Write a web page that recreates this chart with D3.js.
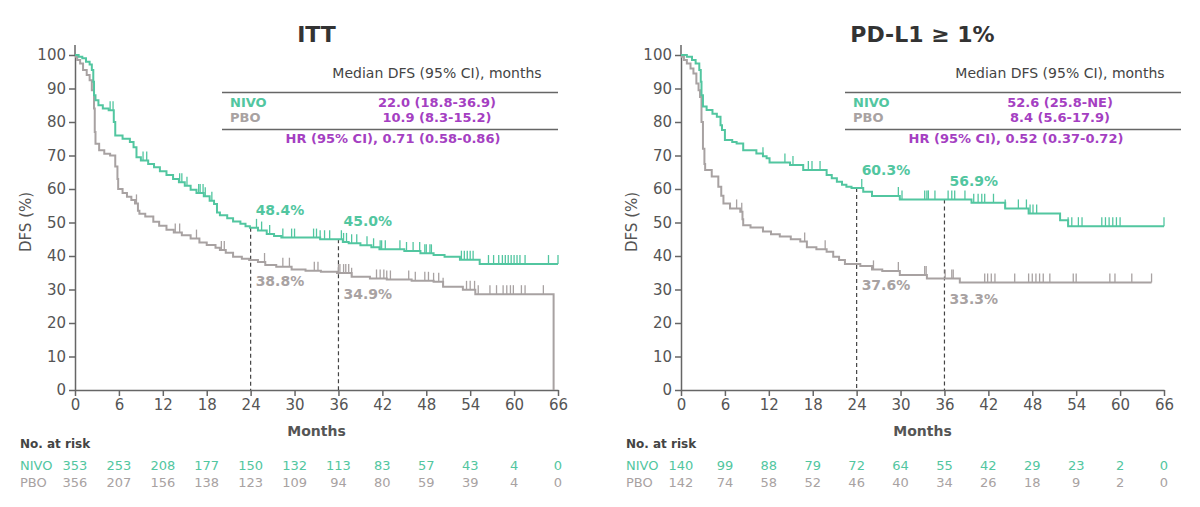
<!DOCTYPE html>
<html>
<head>
<meta charset="utf-8">
<script src="https://cdn.jsdelivr.net/npm/d3@7"></script>
<style>
body { margin: 0; background: #fff; }
text { font-family: "DejaVu Sans", sans-serif; }
</style>
</head>
<body>
<script>
// valores
var monthTicks = [0, 6, 12, 18, 24, 30, 36, 42, 48, 54, 60, 66];
var dfsTicks = [0, 10, 20, 30, 40, 50, 60, 70, 80, 90, 100];

// ITT: escalones [mes, DFS %]
var ittNivo = [[0,100],[0.5,99.5],[1.0,99],[1.5,98],[2.0,97.2],[2.3,95.5],[2.5,92],[2.6,88],[2.8,86.5],[3.2,85],[3.8,84],[4.6,83.5],[5.3,80],[5.5,76],[6.5,75],[7.5,74],[8.0,72.5],[8.4,69.5],[9.0,68.5],[10.0,67.5],[10.8,66.5],[11.6,65.3],[12.5,64.2],[13.4,63],[14.2,62],[15.0,61],[15.8,59.8],[16.6,58.8],[17.6,57.8],[18.4,56.5],[19.0,55.5],[19.4,53],[19.8,52.2],[20.8,51.3],[21.6,50.3],[22.6,49.6],[23.3,48.9],[23.9,48.4],[25.0,47.6],[26.2,46.6],[27.2,46.0],[28.2,45.5],[33.5,45.0],[36.6,44.2],[37.4,43.8],[39.0,43.2],[40.5,42.6],[41.6,42.0],[45.0,41.5],[47.2,40.8],[49.0,40.3],[50.5,39.8],[52.6,38.9],[55.3,37.6],[66,37.6]];
var ittPbo = [[0,99.5],[0.3,98.5],[0.7,97.5],[1.1,95.5],[1.6,94],[2.0,92.5],[2.3,89.5],[2.6,84],[2.7,77],[2.8,73.5],[3.3,71.6],[4.0,70.5],[4.8,70],[5.5,66.7],[5.8,63],[5.9,60],[6.5,58.8],[7.1,57.7],[7.7,56.7],[8.2,55.7],[8.6,53.5],[8.8,52.6],[9.6,51.8],[10.7,50.2],[11.5,49],[12.5,47.8],[13.5,47],[14.6,46.2],[15.8,45.2],[17.0,44],[18.0,43.3],[19.2,42.5],[19.8,41.8],[20.6,41],[21.6,39.8],[22.8,39.2],[23.8,38.8],[25.0,38.2],[26.0,37.3],[27.5,36.8],[29.6,36.0],[31.5,35.6],[33.6,35.3],[35.8,34.9],[37.8,33.8],[40.3,33.3],[42.6,33.0],[46,32.6],[49,32.3],[50.3,30.8],[53,29.9],[54.7,28.6],[65.4,0]];
var ittNivoCens = [4.8,5.2,9.3,9.8,14.3,14.6,15.3,16.9,17.1,17.5,17.8,18.7,24.8,25.5,26.6,28.4,29.6,30.0,32.6,33.0,33.5,34.1,34.8,36.4,36.7,37.1,37.8,38.5,39.9,40.8,41.7,41.9,42.4,44.4,45.3,46.2,47.1,47.8,48.0,48.5,48.7,52.8,53.2,53.6,54.0,54.4,56.5,57.2,57.9,58.4,58.8,59.2,59.6,60.0,60.4,60.8,61.5,64.7,66.0];
var ittPboCens = [8.4,13.7,14.3,16.6,20.0,20.4,25.9,28.4,29.3,32.7,33.2,36.0,36.2,36.7,37.0,37.4,37.8,41.2,41.7,42.2,42.6,43.1,45.6,46.5,47.8,48.3,49.0,49.7,50.3,53.5,54.0,54.6,55.1,56.7,57.6,58.5,59.0,59.5,59.9,61.0,61.5,64.0];

// PD-L1 >= 1%
var pdNivo = [[0,100],[0.8,99.5],[1.5,98.5],[2.0,97.5],[2.5,95.5],[2.7,92],[2.8,88],[3.0,84.6],[3.5,83.6],[4.3,82.5],[4.9,81.6],[5.4,79],[5.6,77.6],[6.0,74.6],[7.0,74],[7.6,73.6],[8.5,71.6],[10.3,70.6],[11.2,69.8],[11.7,69.2],[12.1,67.9],[14.9,67.2],[16.7,65.7],[19.9,64.2],[20.6,63.2],[21.3,62.2],[22.0,61.3],[22.6,60.7],[23.3,60.3],[24.9,59.2],[26.1,57.9],[29.9,56.9],[39.7,55.9],[44.3,54.2],[47.5,52.7],[51.8,50.7],[52.9,48.9],[66,48.9]];
var pdPbo = [[0,99.5],[0.4,98.5],[0.8,97.5],[1.3,96],[1.7,94.5],[2.1,91.5],[2.4,89.5],[2.6,87.5],[2.8,80],[3.0,72],[3.2,67.5],[3.3,65.7],[4.2,63.7],[5.1,60.7],[5.5,58],[5.8,55.7],[6.7,54.2],[8.1,53.2],[8.4,51],[8.5,49.2],[9.5,48.5],[11.2,47.3],[12.3,46.5],[13.5,45.8],[15.0,45.0],[16.3,44.3],[17.2,42.6],[18.5,42],[19.9,41.3],[20.8,39.8],[21.6,38.8],[22.4,37.6],[24.5,37.0],[26.1,36.0],[27.5,35.5],[29.9,34.3],[33.6,33.3],[38.1,32.1],[64.3,32.1]];
var pdNivoCens = [11.2,14.2,15.3,17.4,17.9,19.0,24.7,29.7,30.2,33.3,33.6,33.8,34.7,36.5,37.0,37.4,38.8,40.0,40.6,41.1,41.5,42.7,44.3,46.1,47.2,47.7,48.1,48.6,52.9,53.4,54.3,54.8,57.5,58.0,58.5,59.0,59.5,60.0,66.0];
var pdPboCens = [7.6,8.3,16.9,19.7,26.3,29.7,33.3,33.5,36.1,37.0,37.2,41.5,41.9,42.4,42.9,45.6,47.5,48.0,48.5,49.0,49.5,50.4,53.6,54.0,58.6,59.3,61.6,64.3];

// número en riesgo
var ittRiskNivo = [353,253,208,177,150,132,113,83,57,43,4,0];
var ittRiskPbo = [356,207,156,138,123,109,94,80,59,39,4,0];
var pdRiskNivo = [140,99,88,79,72,64,55,42,29,23,2,0];
var pdRiskPbo = [142,74,58,52,46,40,34,26,18,9,2,0];

// tablas de mediana y marcas de 24 / 36 meses
var ittMedian = ["22.0 (18.8-36.9)", "10.9 (8.3-15.2)", "HR (95% CI), 0.71 (0.58-0.86)"];
var pdMedian = ["52.6 (25.8-NE)", "8.4 (5.6-17.9)", "HR (95% CI), 0.52 (0.37-0.72)"];
var ittMarks = [[24, 48.4, 38.8], [36, 45.0, 34.9]];
var pdMarks = [[24, 60.3, 37.6], [36, 56.9, 33.3]];

var NIVO = "#52c6a0", PBO = "#a8a2a2", PURPLE = "#a53fc2", AXIS = "#666", TXT = "#555";

var panels = [
  {title: "ITT", x0: 75, tableX: 222, nivo: ittNivo, pbo: ittPbo, nivoCens: ittNivoCens, pboCens: ittPboCens,
   riskNivo: ittRiskNivo, riskPbo: ittRiskPbo, median: ittMedian, marks: ittMarks},
  {title: "PD-L1 \u2265 1%", x0: 681, tableX: 845, nivo: pdNivo, pbo: pdPbo, nivoCens: pdNivoCens, pboCens: pdPboCens,
   riskNivo: pdRiskNivo, riskPbo: pdRiskPbo, median: pdMedian, marks: pdMarks}
];

var svg = d3.select("body").append("svg")
  .attr("width", 1200).attr("height", 507);

// valor de la curva en un mes dado
function survAt(steps, t) {
  var v = steps[0][1];
  steps.forEach(function(s) { if (s[0] <= t) v = s[1]; });
  return v;
}

panels.forEach(function(p) {
  var g = svg.append("g");
  var x = d3.scaleLinear().domain([0, 66]).range([p.x0, p.x0 + 483]);
  var y = d3.scaleLinear().domain([0, 100]).range([390, 55]);
  var left = p.x0 - 55;

  // título
  g.append("text").attr("x", x(33)).attr("y", 42).attr("text-anchor", "middle")
    .attr("font-size", 22).attr("font-weight", "bold").attr("fill", "#333").text(p.title);

  // ejes
  var yAxis = g.append("g").attr("transform", "translate(" + p.x0 + ",0)")
    .call(d3.axisLeft(y).tickValues(dfsTicks).tickSize(6).tickSizeOuter(0).tickPadding(3));
  var xAxis = g.append("g").attr("transform", "translate(0,390)")
    .call(d3.axisBottom(x).tickValues(monthTicks).tickSize(6).tickSizeOuter(0).tickPadding(3));
  [yAxis, xAxis].forEach(function(a) {
    a.select(".domain").attr("stroke", AXIS).attr("stroke-width", 1.5);
    a.selectAll(".tick line").attr("stroke", AXIS).attr("stroke-width", 1.5);
    a.selectAll(".tick text").attr("font-size", 15).attr("fill", TXT)
      .attr("font-family", "DejaVu Sans, sans-serif");
  });
  g.append("line").attr("x1", p.x0).attr("x2", p.x0).attr("y1", 45).attr("y2", 55)
    .attr("stroke", AXIS).attr("stroke-width", 1.5);

  g.append("text").attr("transform", "translate(" + (p.x0 - 44) + ",222) rotate(-90)")
    .attr("text-anchor", "middle").attr("font-size", 15).attr("fill", TXT).text("DFS (%)");
  g.append("text").attr("x", x(33)).attr("y", 436).attr("text-anchor", "middle")
    .attr("font-size", 14).attr("font-weight", "bold").attr("fill", "#555").text("Months");

  // líneas discontinuas y porcentajes
  p.marks.forEach(function(m) {
    g.append("line").attr("x1", x(m[0])).attr("x2", x(m[0]))
      .attr("y1", y(m[1])).attr("y2", y(0))
      .attr("stroke", "#444").attr("stroke-width", 1.2).attr("stroke-dasharray", "4,3");
    g.append("text").attr("x", x(m[0]) + 5).attr("y", y(m[1]) - 13)
      .attr("font-family", "DejaVu Sans Mono, monospace").attr("font-weight", "bold")
      .attr("font-size", 14).attr("fill", NIVO).text(m[1].toFixed(1) + "%");
    g.append("text").attr("x", x(m[0]) + 5).attr("y", y(m[2]) + 26)
      .attr("font-family", "DejaVu Sans Mono, monospace").attr("font-weight", "bold")
      .attr("font-size", 14).attr("fill", PBO).text(m[2].toFixed(1) + "%");
  });

  // curvas
  var line = d3.line().x(function(d) { return x(d[0]); }).y(function(d) { return y(d[1]); })
    .curve(d3.curveStepAfter);
  [[p.pbo, p.pboCens, PBO], [p.nivo, p.nivoCens, NIVO]].forEach(function(c) {
    g.append("path").datum(c[0]).attr("d", line)
      .attr("fill", "none").attr("stroke", c[2]).attr("stroke-width", 2);
    g.selectAll(null).data(c[1]).enter().append("line")
      .attr("x1", function(t) { return x(t); }).attr("x2", function(t) { return x(t); })
      .attr("y1", function(t) { return y(survAt(c[0], t)); })
      .attr("y2", function(t) { return y(survAt(c[0], t)) - 9; })
      .attr("stroke", c[2]).attr("stroke-width", 1.3);
  });

  // tabla de mediana
  var tx = p.tableX;
  g.append("text").attr("x", tx + 215).attr("y", 78).attr("text-anchor", "middle")
    .attr("font-size", 14).attr("fill", "#444").text("Median DFS (95% CI), months");
  [92.5, 129.5].forEach(function(ly) {
    g.append("line").attr("x1", tx).attr("x2", tx + 336).attr("y1", ly).attr("y2", ly)
      .attr("stroke", AXIS).attr("stroke-width", 1.5);
  });
  g.append("text").attr("x", tx + 8).attr("y", 106.5).attr("font-size", 13)
    .attr("font-weight", "bold").attr("fill", NIVO).text("NIVO");
  g.append("text").attr("x", tx + 8).attr("y", 121.5).attr("font-size", 13)
    .attr("font-weight", "bold").attr("fill", PBO).text("PBO");
  g.append("text").attr("x", tx + 215).attr("y", 106.5).attr("text-anchor", "middle").attr("font-size", 13)
    .attr("font-weight", "bold").attr("fill", PURPLE).text(p.median[0]);
  g.append("text").attr("x", tx + 215).attr("y", 121.5).attr("text-anchor", "middle").attr("font-size", 13)
    .attr("font-weight", "bold").attr("fill", PURPLE).text(p.median[1]);
  g.append("text").attr("x", tx + 171).attr("y", 143).attr("text-anchor", "middle").attr("font-size", 13)
    .attr("font-weight", "bold").attr("fill", PURPLE).text(p.median[2]);

  // número en riesgo
  g.append("text").attr("x", left).attr("y", 448).attr("font-size", 12)
    .attr("font-weight", "bold").attr("fill", "#444").text("No. at risk");
  [["NIVO", p.riskNivo, NIVO, 469.5], ["PBO", p.riskPbo, PBO, 487]].forEach(function(r) {
    g.append("text").attr("x", left).attr("y", r[3]).attr("font-size", 13).attr("fill", r[2]).text(r[0]);
    g.selectAll(null).data(r[1]).enter().append("text")
      .attr("x", function(d, i) { return x(monthTicks[i]); }).attr("y", r[3])
      .attr("text-anchor", "middle").attr("font-size", 13).attr("fill", r[2])
      .text(function(d) { return d; });
  });
});
</script>
</body>
</html>
